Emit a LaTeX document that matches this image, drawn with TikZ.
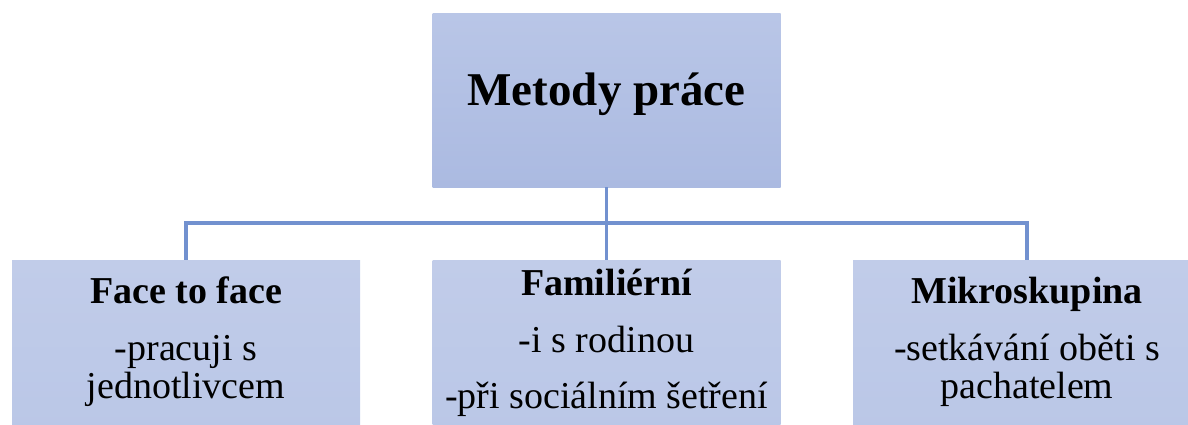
\documentclass[tikz,border=0pt]{standalone}
\usepackage{fontspec}
\setmainfont{LiberationSerif}[Extension=.ttf, UprightFont=*-Regular, BoldFont=*-Bold, ItalicFont=*-Italic, BoldItalicFont=*-BoldItalic]
\definecolor{lineblue}{RGB}{114,145,207}
\definecolor{topA}{RGB}{185,198,231}
\definecolor{topB}{RGB}{171,186,225}
\definecolor{botA}{RGB}{193,204,233}
\definecolor{botB}{RGB}{186,199,231}
\begin{document}
\begin{tikzpicture}[x=1pt,y=-1pt,
  box/.style={minimum width=348pt, minimum height=174pt, inner sep=0pt, draw=none},
  topbox/.style={box, top color=topA, bottom color=topB},
  subbox/.style={box, top color=botA, bottom color=botB},
  conn/.style={draw=lineblue, line width=3.2pt},
  titletext/.style={anchor=base, inner sep=0pt, font=\fontsize{47}{50}\selectfont\bfseries},
  headtext/.style={anchor=base, inner sep=0pt, font=\fontsize{38}{40}\selectfont\bfseries},
  bodytext/.style={anchor=base, inner sep=0pt, font=\fontsize{38}{40}\selectfont}]
\useasboundingbox (0,0) rectangle (1188,424);
\clip (0,0) rectangle (1188,424);
\node[topbox] (top) at (606.5,100) {};
\node[subbox] (left) at (186,347) {};
\node[subbox] (mid) at (606.5,347) {};
\node[subbox] (right) at (1027,347) {};
\coordinate (hub) at (606.5,223);
\draw[conn] (top.south) -- (mid.north);
\draw[conn] (left.north) |- (hub) -| (right.north);
\node[titletext] (t0) at (606.5,105) {Metody práce};
\node[headtext] (l1) at (186,303) {Face to face};
\node[bodytext] (l2) at (186,360) {-pracuji s};
\node[bodytext] (l3) at (186,398) {jednotlivcem};
\node[headtext] (m1) at (606.5,295) {Familiérní};
\node[bodytext] (m2) at (606.5,352) {-i s rodinou};
\node[bodytext] (m3) at (606.5,408) {-při sociálním šetření};
\node[headtext] (r1) at (1027,303) {Mikroskupina};
\node[bodytext] (r2) at (1027,360) {-setkávání oběti s};
\node[bodytext] (r3) at (1027,398) {pachatelem};
\end{tikzpicture}
\end{document}
